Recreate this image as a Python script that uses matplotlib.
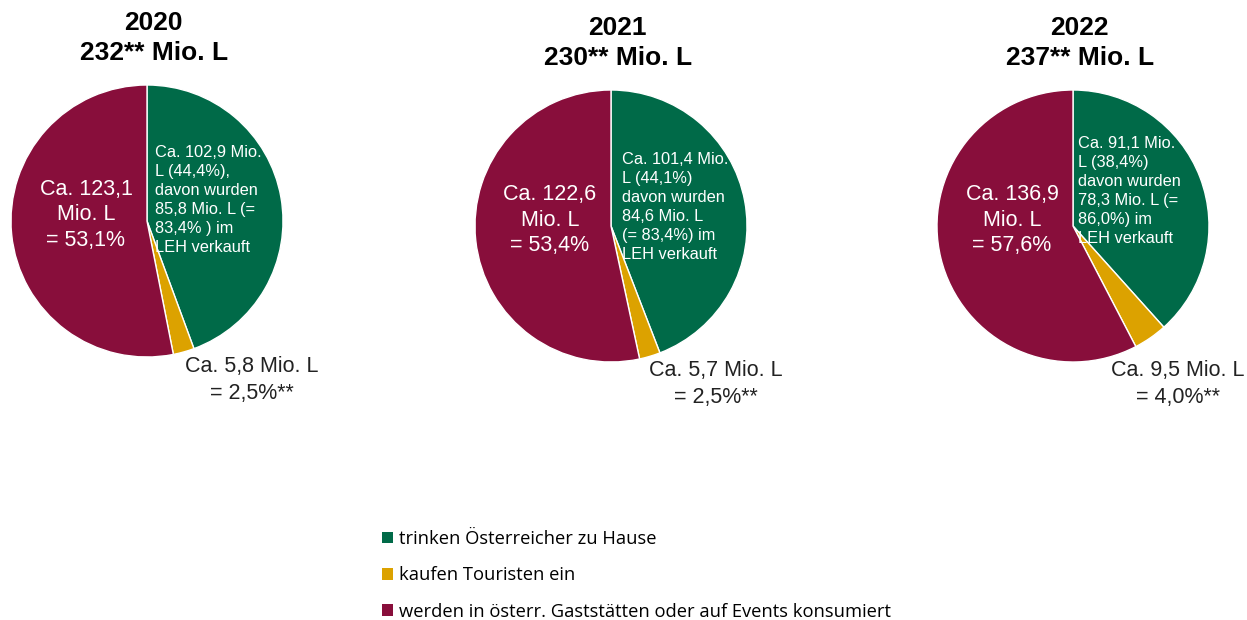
import matplotlib.pyplot as plt
from matplotlib.patches import Patch

# Bierkonsum Österreich, Mio. Liter
years = ['2020', '2021', '2022']
totals = ['232**', '230**', '237**']
home = [102.9, 101.4, 91.1]
home_pct = [44.4, 44.1, 38.4]
leh = [85.8, 84.6, 78.3]
leh_pct = [83.4, 83.4, 86.0]
tourists = [5.8, 5.7, 9.5]
tourists_pct = [2.5, 2.5, 4.0]
gastro = [123.1, 122.6, 136.9]
gastro_pct = [53.1, 53.4, 57.6]

legend_labels = ['trinken Österreicher zu Hause',
                 'kaufen Touristen ein',
                 'werden in österr. Gaststätten oder auf Events konsumiert']
colors = ['#006a48', '#dca200', '#880e3b']

home_tpl = ['Ca. {v} Mio.\nL ({p}%),\ndavon wurden\n{l} Mio. L (=\n{lp}% ) im\nLEH verkauft',
            'Ca. {v} Mio.\nL ({p}%)\ndavon wurden\n{l} Mio. L\n(= {lp}%) im\nLEH verkauft',
            'Ca. {v} Mio.\nL ({p}%)\ndavon wurden\n{l} Mio. L (=\n{lp}%) im\nLEH verkauft']

W, H = 1247, 620


def de(x):
    return f'{x:.1f}'.replace('.', ',')


def fx(x):
    return x / W


def fy(y):
    return 1 - y / H


fig = plt.figure(figsize=(W / 100, H / 100), dpi=100)

# pixel layout per pie: centre x, centre y, radius
centres = [(147, 221), (611, 226), (1073, 226)]
R = 136

for i in range(3):
    cx, cy = centres[i]
    ax = fig.add_axes([fx(cx - R), fy(cy + R), 2 * R / W, 2 * R / H])
    ax.pie([home[i], tourists[i], gastro[i]], colors=colors, startangle=90,
           counterclock=False, radius=1,
           wedgeprops=dict(edgecolor='white', linewidth=1))
    ax.set_xlim(-1, 1)
    ax.set_ylim(-1, 1)
    ax.set_aspect('equal')
    ax.axis('off')

    # title
    fig.text(fx(cx + 6), fy(cy - 198), years[i], ha='center', va='center',
             fontsize=19, fontweight='bold', family='Liberation Sans')
    fig.text(fx(cx + 7), fy(cy - 168), totals[i] + ' Mio. L', ha='center', va='center',
             fontsize=19, fontweight='bold', family='Liberation Sans')

    # maroon slice label
    fig.text(fx(cx - 61), fy(cy - 6),
             f'Ca. {de(gastro[i])}\nMio. L\n= {de(gastro_pct[i])}%',
             ha='center', va='center', color='white', fontsize=15.5,
             family='Liberation Sans', linespacing=1.29)

    # green slice label
    gl = home_tpl[i].format(v=de(home[i]), p=de(home_pct[i]),
                            l=de(leh[i]), lp=de(leh_pct[i]))
    gx = [155, 622, 1078][i]
    gy = [200, 207, 191][i]
    fig.text(fx(gx), fy(gy), gl, ha='left', va='center', color='white',
             fontsize=11.8, family='Liberation Sans', linespacing=1.33)

    # yellow slice label, outside
    tx = [252, 716, 1178][i]
    ty = [380, 384, 384][i]
    fig.text(fx(tx), fy(ty),
             f'Ca. {de(tourists[i])} Mio. L\n= {de(tourists_pct[i])}%**',
             ha='center', va='center', color='#222222', fontsize=15.5,
             family='Liberation Sans', linespacing=1.32)

handles = [Patch(facecolor=c, edgecolor='none') for c in colors]
fig.legend(handles, legend_labels, loc='upper left',
           bbox_to_anchor=(fx(382), fy(530)), frameon=False,
           prop=dict(family='Open Sans', size=13.2),
           handlelength=0.6, handleheight=0.6, handletextpad=0.3,
           labelspacing=1.0, borderpad=0, borderaxespad=0)

fig.savefig('out.png', dpi=100, facecolor='white')
